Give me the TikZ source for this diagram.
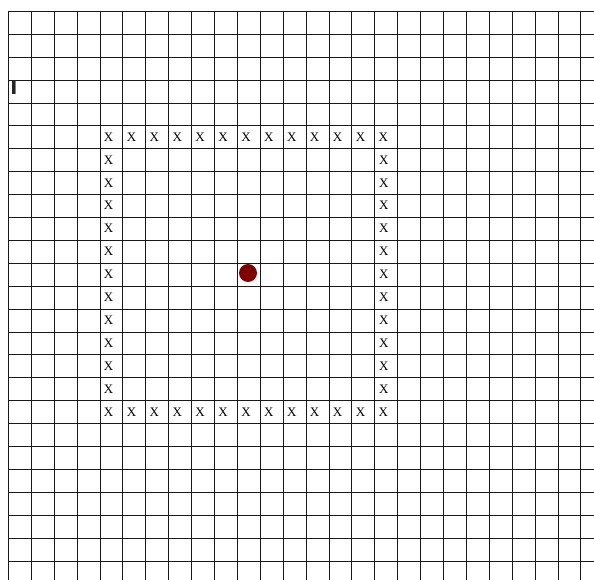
\documentclass[tikz,border=0pt]{standalone}
\usepackage{fontspec}
\setmainfont{Liberation Serif}
\newfontfamily\barfont{DejaVu Sans}
\definecolor{dotred}{RGB}{128,0,0}
\tikzset{
  gridline/.style={line width=1.9pt, draw=black!90},
  xmark/.style={inner sep=0pt, font=\fontsize{13}{14}\selectfont, text=black},
  reddot/.style={circle, fill=dotred, draw=none, minimum size=18pt, inner sep=0pt},
  cursor/.style={inner sep=0pt, font=\barfont\bfseries\fontsize{19}{20}\selectfont, text=black!85}
}
\begin{document}
\begin{tikzpicture}[x=1pt,y=-1pt]
\useasboundingbox (0,0) rectangle (594,580);
\fill[white] (0,0) rectangle (594,580);
% grid
\foreach \k in {0,...,24} {
  \draw[gridline] (8,{round(11+22.9*\k)+0.5}) -- (594,{round(11+22.9*\k)+0.5});
}
\foreach \k in {0,...,25} {
  \draw[gridline] ({round(8+22.9*\k)+0.5},11) -- ({round(8+22.9*\k)+0.5},580);
}
% X marks: top and bottom rows
\foreach \c in {4,...,16} {
  \node[xmark] (t\c) at ({8+22.9*(\c+0.5)-2.5},{11+22.9*5.5}) {X};
  \node[xmark] (b\c) at ({8+22.9*(\c+0.5)-2.5},{11+22.9*17.5}) {X};
}
% X marks: left and right columns
\foreach \r in {6,...,16} {
  \node[xmark] (l\r) at ({8+22.9*4.5-2.5},{11+22.9*(\r+0.5)}) {X};
  \node[xmark] (r\r) at ({8+22.9*16.5-2},{11+22.9*(\r+0.5)}) {X};
}
% red dot
\node[reddot] (dot) at (248,273) {};
% cursor bar
\node[cursor] (cur) at (13.8,88) {I};
\end{tikzpicture}
\end{document}
